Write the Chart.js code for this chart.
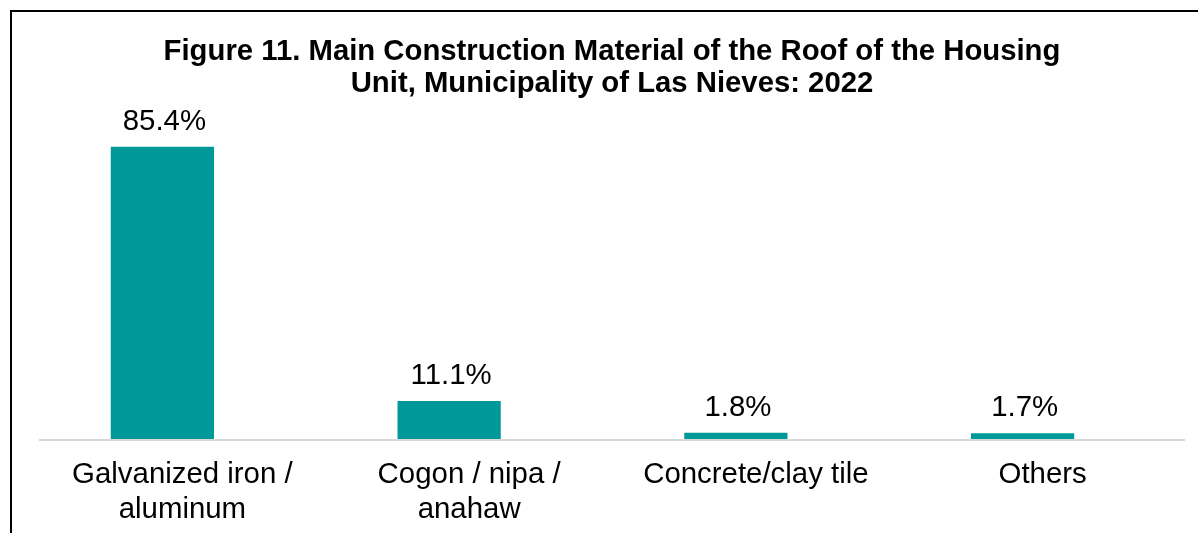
<!DOCTYPE html>
<html>
<head>
<meta charset="utf-8">
<script src="https://cdn.jsdelivr.net/npm/chart.js@4"></script>
<style>
  html, body { margin: 0; padding: 0; background: #fff; }
  #wrap { position: relative; width: 1203px; height: 533px; overflow: hidden; }
  #frame { position: absolute; left: 10px; top: 10px; width: 1188px; height: 600px;
           border-left: 2px solid #000; border-top: 2px solid #000; box-sizing: border-box; }
  #title { position: absolute; left: 39px; width: 1146px; top: 34px; text-align: center;
           font: bold 29.3px/32px "Liberation Sans", Arial, sans-serif; color: #000; }
  canvas { position: absolute; left: 0; top: 0; }
</style>
</head>
<body>
<div id="wrap">
  <div id="frame"></div>
  <canvas id="chart" width="1203" height="533"></canvas>
  <div id="title"></div>
</div>
<script>
const categories = [
    ["Galvanized iron /", "aluminum"],
    ["Cogon / nipa /", "anahaw"],
    "Concrete/clay tile",
    "Others"
];
const shares = [85.4, 11.1, 1.8, 1.7];
const titleLines = [
    "Figure 11. Main Construction Material of the Roof of the Housing",
    "Unit, Municipality of Las Nieves: 2022"
];

const FONT = '"Liberation Sans", Arial, sans-serif';

document.querySelector("#title").innerHTML = titleLines.join('<br>');

// value labels above each bar + the light baseline under the bars
const barLabels = {
    id: 'barLabels',
    beforeDatasetsDraw(chart) {
        const ctx = chart.ctx;
        const area = chart.chartArea;
        const y0 = chart.scales.y.getPixelForValue(0);
        ctx.save();
        ctx.strokeStyle = '#d9d9d9';
        ctx.lineWidth = 2;
        ctx.beginPath();
        ctx.moveTo(area.left + 20, y0 + 1);
        ctx.lineTo(area.right + 19, y0 + 1);
        ctx.stroke();
        ctx.restore();
    },
    afterDatasetsDraw(chart) {
        const ctx = chart.ctx;
        const meta = chart.getDatasetMeta(0);
        ctx.save();
        ctx.font = '29.4px ' + FONT;
        ctx.fillStyle = '#000';
        ctx.textAlign = 'center';
        ctx.textBaseline = 'alphabetic';
        meta.data.forEach((bar, i) => {
            ctx.fillText(shares[i].toFixed(1) + '%', bar.x + 2, bar.y - 17);
        });
        ctx.restore();
    }
};

const ctx = document.querySelector("#chart").getContext('2d');
const chart = new Chart(ctx, {
    type: 'bar',
    data: {
        labels: categories,
        datasets: [{
            data: shares,
            backgroundColor: '#009999',
            categoryPercentage: 1,
            barPercentage: 0.36
        }]
    },
    options: {
        responsive: false,
        animation: false,
        layout: { padding: { left: 19, right: 37, top: 131, bottom: 9 } },
        plugins: {
            legend: { display: false },
            tooltip: { enabled: false },
            title: { display: false }
        },
        scales: {
            x: {
                grid: { display: false, drawTicks: false },
                border: { display: false },
                afterFit(scale) { scale.height = 85; },
                ticks: {
                    color: '#000',
                    padding: 18,
                    labelOffset: 20,
                    maxRotation: 0,
                    autoSkip: false,
                    font: { family: FONT, size: 29.4, lineHeight: '35px' }
                }
            },
            y: {
                display: false,
                min: 0,
                max: 90
            }
        }
    },
    plugins: [barLabels]
});
</script>
</body>
</html>
